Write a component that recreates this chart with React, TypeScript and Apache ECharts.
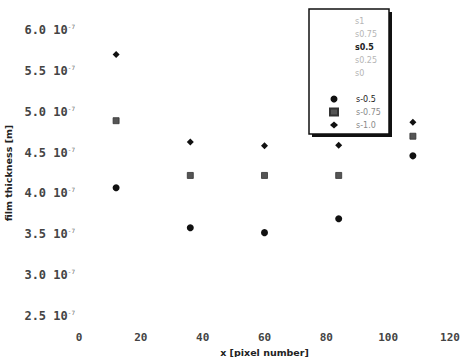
import React, { useEffect, useRef } from "react";
import * as echarts from "echarts";

// Data (film thickness in metres vs x pixel number)
const xPixels = [12, 36, 60, 84, 108];
const sMinus05 = [4.07e-7, 3.58e-7, 3.52e-7, 3.69e-7, 4.46e-7];
const sMinus075 = [4.89e-7, 4.22e-7, 4.22e-7, 4.22e-7, 4.70e-7];
const sMinus10 = [5.70e-7, 4.63e-7, 4.585e-7, 4.59e-7, 4.87e-7];

const topLegendNames = ["s1", "s0.75", "s0.5", "s0.25", "s0"];
const bottomLegendNames = ["s-0.5", "s-0.75", "s-1.0"];

const yMin = 2.5e-7;
const yMax = 6.0e-7;
const yStep = 0.5e-7;
const xMin = 0;
const xMax = 120;
const xStep = 20;

const MONO = "'DejaVu Sans Mono', monospace";
const SANS = "'DejaVu Sans', sans-serif";

export default function App() {
  const ref = useRef<HTMLDivElement>(null);

  useEffect(() => {
    if (!ref.current) return;
    const chart = echarts.init(ref.current, undefined, { renderer: "svg" });

    const pair = (vals: number[]) => xPixels.map((x, i) => [x, vals[i]]);

    const dummySeries = topLegendNames.map((name) => ({
      type: "scatter",
      name,
      data: [] as number[][],
      symbolSize: 0,
      itemStyle: { color: "#bbb" },
    }));

    chart.setOption({
      animation: false,
      backgroundColor: "#ffffff",
      grid: { left: 79, right: 11, top: 30, bottom: 41, containLabel: false, outerBoundsMode: "none" },
      graphic: [
        {
          type: "rect",
          z: 1,
          shape: { x: 312, y: 12, width: 80, height: 125 },
          style: { fill: "#111" },
        },
        {
          type: "rect",
          z: 2,
          shape: { x: 309, y: 9, width: 80, height: 125 },
          style: { fill: "#fff", stroke: "#111", lineWidth: 1.5 },
        },
      ],
      legend: [
        {
          orient: "vertical",
          left: 316,
          top: 16,
          padding: 0,
          itemWidth: 34,
          itemHeight: 7,
          itemGap: 3,
          z: 10,
          textStyle: { fontFamily: SANS, fontSize: 8, lineHeight: 10, color: "#b5b5b5" },
          data: topLegendNames.map((name) => ({
            name,
            icon: "none",
            textStyle:
              name === "s0.5"
                ? { color: "#222", fontWeight: "bold", fontFamily: SANS, fontSize: 8 }
                : { color: "#b5b5b5", fontFamily: SANS, fontSize: 8 },
          })),
        },
        {
          orient: "vertical",
          left: 329,
          top: 94,
          padding: 0,
          itemWidth: 8,
          itemHeight: 7,
          itemGap: 3,
          z: 10,
          symbolKeepAspect: true,
          textStyle: { fontFamily: SANS, fontSize: 8, lineHeight: 10, color: "#777", padding: [0, 0, 0, 13] },
          data: bottomLegendNames.map((name) => ({
            name,
            textStyle:
              name === "s-0.5"
                ? { color: "#222", fontFamily: SANS, fontSize: 8, padding: [0, 0, 0, 13] }
                : { color: "#8a8a8a", fontFamily: SANS, fontSize: 8, padding: [0, 0, 0, 13] },
          })),
        },
      ],
      xAxis: {
        type: "value",
        min: xMin,
        max: xMax,
        interval: xStep,
        name: "x [pixel number]",
        nameLocation: "middle",
        nameGap: 26,
        nameTextStyle: { fontFamily: SANS, fontSize: 9.5, fontWeight: "bold", color: "#222" },
        axisLine: { show: false },
        axisTick: { show: false },
        splitLine: { show: false },
        axisLabel: {
          margin: 16,
          fontFamily: MONO,
          fontSize: 11,
          fontWeight: "bold",
          color: "#444",
        },
      },
      yAxis: {
        type: "value",
        min: yMin,
        max: yMax,
        interval: yStep,
        name: "film thickness [m]",
        nameLocation: "middle",
        nameGap: 60,
        nameTextStyle: { fontFamily: SANS, fontSize: 9.5, fontWeight: "bold", color: "#222" },
        axisLine: { show: false },
        axisTick: { show: false },
        splitLine: { show: false },
        axisLabel: {
          margin: 4,
          formatter: (v: number) => `{m|${(v / 1e-7).toFixed(1)} 10}{s|-7}`,
          rich: {
            m: { fontFamily: MONO, fontSize: 12, fontWeight: "bold", color: "#444", lineHeight: 13 },
            s: {
              fontFamily: MONO,
              fontSize: 6,
              color: "#666",
              verticalAlign: "top",
              lineHeight: 13,
              padding: [0, 0, 6, 0],
            },
          },
        },
      },
      series: [
        ...dummySeries,
        {
          type: "scatter",
          name: "s-0.5",
          symbol: "circle",
          symbolSize: 7,
          symbolKeepAspect: true,
          itemStyle: { color: "#111", opacity: 1 },
          data: pair(sMinus05),
        },
        {
          type: "scatter",
          name: "s-0.75",
          symbol: "rect",
          symbolSize: 6,
          symbolKeepAspect: true,
          itemStyle: { color: "#555", borderColor: "#333", borderWidth: 0.8, opacity: 1 },
          data: pair(sMinus075),
        },
        {
          type: "scatter",
          name: "s-1.0",
          symbol: "diamond",
          symbolSize: 7,
          symbolKeepAspect: true,
          itemStyle: { color: "#111", opacity: 1 },
          data: pair(sMinus10),
        },
      ],
    });

    return () => chart.dispose();
  }, []);

  return <div ref={ref} style={{ width: 461, height: 357, position: "absolute", left: 0, top: 0 }} />;
}
